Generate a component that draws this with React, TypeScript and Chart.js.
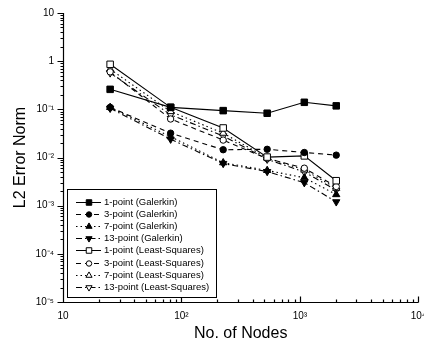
import React, { useEffect, useRef } from 'react';
import { Chart, registerables } from 'chart.js';

Chart.register(...registerables);

// ---- data ----
const nodes = [25, 81, 225, 529, 1089, 2025];
const galerkin1 = [0.26, 0.11, 0.094, 0.083, 0.14, 0.118];
const galerkin3 = [0.11, 0.032, 0.0145, 0.0148, 0.0127, 0.0112];
const galerkin7 = [0.11, 0.027, 0.0078, 0.0054, 0.0038, 0.0017];
const galerkin13 = [0.105, 0.024, 0.0075, 0.0051, 0.003, 0.0012];
const leastSq1 = [0.86, 0.11, 0.041, 0.0102, 0.0108, 0.0033];
const leastSq3 = [0.6, 0.063, 0.023, 0.0095, 0.006, 0.0025];
const leastSq7 = [0.68, 0.09, 0.032, 0.0098, 0.0055, 0.0023];
const leastSq13 = [0.57, 0.077, 0.028, 0.0092, 0.005, 0.0021];

const seriesLabels = [
  '1-point (Galerkin)',
  '3-point (Galerkin)',
  '7-point (Galerkin)',
  '13-point (Galerkin)',
  '1-point (Least-Squares)',
  '3-point (Least-Squares)',
  '7-point (Least-Squares)',
  '13-point (Least-Squares)',
];
const seriesValues = [galerkin1, galerkin3, galerkin7, galerkin13, leastSq1, leastSq3, leastSq7, leastSq13];

const xTickLabels: Record<number, string> = { 1: '10', 2: '10²', 3: '10³', 4: '10⁴' };
const yTickLabels: Record<number, string> = {
  1: '10', 0: '1', [-1]: '10⁻¹', [-2]: '10⁻²', [-3]: '10⁻³', [-4]: '10⁻⁴', [-5]: '10⁻⁵',
};
const xTitle = 'No. of Nodes';
const yTitle = 'L2 Error Norm';

// ---- styles ----
const FONT = '"Liberation Sans", Arial, Helvetica, sans-serif';
const dashSolid: number[] = [];
const dashDashed = [5, 4];
const dashDotted = [1.5, 3];
const dashDashDot = [6, 3, 1.5, 3];
const seriesDash = [dashSolid, dashDashed, dashDotted, dashDashDot, dashSolid, dashDashed, dashDotted, dashDashDot];
const seriesPoint = ['rect', 'circle', 'triangle', 'triangle', 'rect', 'circle', 'triangle', 'triangle'];
const seriesRotation = [0, 0, 0, 180, 0, 0, 0, 180];
const seriesRadius = [4.6, 3.2, 4.2, 4.2, 4.6, 3.2, 4.2, 4.2];
const seriesFill = ['#000', '#000', '#000', '#000', '#fff', '#fff', '#fff', '#fff'];

function powLabel(v: number, map: Record<number, string>) {
  const e = Math.log10(v);
  const r = Math.round(e);
  if (Math.abs(e - r) < 1e-6 && map[r] !== undefined) return map[r];
  return '';
}

function drawMarker(ctx: CanvasRenderingContext2D, style: string, x: number, y: number, r: number, rot: number, fill: string) {
  ctx.beginPath();
  if (style === 'rect') {
    const s = Math.SQRT1_2 * r;
    ctx.rect(x - s, y - s, 2 * s, 2 * s);
  } else if (style === 'circle') {
    ctx.arc(x, y, r, 0, Math.PI * 2);
  } else {
    let a = (rot * Math.PI) / 180;
    ctx.moveTo(x + Math.sin(a) * r, y - Math.cos(a) * r);
    a += (2 * Math.PI) / 3;
    ctx.lineTo(x + Math.sin(a) * r, y - Math.cos(a) * r);
    a += (2 * Math.PI) / 3;
    ctx.lineTo(x + Math.sin(a) * r, y - Math.cos(a) * r);
    ctx.closePath();
  }
  ctx.fillStyle = fill;
  ctx.fill();
  ctx.strokeStyle = '#000';
  ctx.lineWidth = 1;
  ctx.stroke();
}

const axesPlugin = {
  id: 'logAxes',
  beforeDatasetsDraw(chart: any) {
    const { ctx, chartArea: ca, scales } = chart;
    const xs = scales.x;
    const ys = scales.y;
    ctx.save();
    ctx.strokeStyle = '#000';
    ctx.lineWidth = 1.2;
    ctx.setLineDash([]);
    ctx.beginPath();
    const lx = Math.round(ca.left) + 0.5;
    const by = Math.round(ca.bottom) + 0.5;
    ctx.moveTo(lx, ca.top);
    ctx.lineTo(lx, by);
    ctx.lineTo(ca.right, by);
    for (let e = 1; e <= 4; e++) {
      for (let m = 1; m <= 9; m++) {
        const v = m * Math.pow(10, e);
        if (v > 10000 + 1e-6) continue;
        const px = Math.round(xs.getPixelForValue(v)) + 0.5;
        const len = m === 1 ? 6 : 3;
        ctx.moveTo(px, by);
        ctx.lineTo(px, by - len);
      }
    }
    for (let e = -5; e <= 1; e++) {
      for (let m = 1; m <= 9; m++) {
        const v = m * Math.pow(10, e);
        if (v > 10 + 1e-9) continue;
        const py = Math.round(ys.getPixelForValue(v)) + 0.5;
        const len = m === 1 ? 6 : 3;
        ctx.moveTo(lx, py);
        ctx.lineTo(lx - len, py);
      }
    }
    ctx.stroke();
    ctx.restore();
  },
};

const legendPlugin = {
  id: 'boxLegend',
  afterDatasetsDraw(chart: any) {
    const { ctx, chartArea: ca } = chart;
    const w = 149;
    const h = 108;
    const left = Math.round(ca.left) + 4;
    const top = Math.round(ca.bottom) - 5 - h;
    ctx.save();
    ctx.fillStyle = '#fff';
    ctx.fillRect(left, top, w, h);
    ctx.strokeStyle = '#000';
    ctx.lineWidth = 1;
    ctx.setLineDash([]);
    ctx.strokeRect(left + 0.5, top + 0.5, w, h);
    chart.data.datasets.forEach((ds: any, i: number) => {
      const y = Math.round(top + 13 + 12.1 * i) + 0.5;
      ctx.strokeStyle = '#000';
      ctx.lineWidth = 1;
      ctx.setLineDash(ds.borderDash || []);
      ctx.beginPath();
      ctx.moveTo(left + 9, y);
      ctx.lineTo(left + 34, y);
      ctx.stroke();
      ctx.setLineDash([]);
      drawMarker(ctx, ds.pointStyle, left + 22, y, ds.pointRadius * 0.85, ds.pointRotation || 0, ds.pointBackgroundColor);
      ctx.fillStyle = '#000';
      ctx.font = `9.5px ${FONT}`;
      ctx.textBaseline = 'middle';
      ctx.textAlign = 'left';
      ctx.fillText(ds.label, left + 37, y);
    });
    ctx.restore();
  },
};

export default function App() {
  const ref = useRef<HTMLCanvasElement | null>(null);

  useEffect(() => {
    if (!ref.current) return;
    const datasets = seriesLabels.map((label, i) => ({
      label,
      data: nodes.map((n, j) => ({ x: n, y: seriesValues[i][j] })),
      borderColor: '#000',
      borderWidth: 1.1,
      borderDash: seriesDash[i],
      pointStyle: seriesPoint[i],
      pointRotation: seriesRotation[i],
      pointRadius: seriesRadius[i],
      pointBackgroundColor: seriesFill[i],
      pointBorderColor: '#000',
      pointBorderWidth: 1,
      fill: false,
      tension: 0,
    }));

    const chart = new Chart(ref.current, {
      type: 'line',
      data: { datasets },
      plugins: [axesPlugin, legendPlugin],
      options: {
        animation: false,
        responsive: false,
        devicePixelRatio: 1,
        layout: { padding: { top: 13, right: 4, bottom: 0, left: 0 } },
        plugins: { legend: { display: false }, tooltip: { enabled: false } },
        scales: {
          x: {
            type: 'logarithmic',
            min: 10,
            max: 10000,
            position: 'bottom',
            grid: { display: false, drawTicks: false },
            border: { display: false },
            ticks: {
              autoSkip: false,
              maxRotation: 0,
              padding: 8,
              color: '#000',
              font: { family: FONT, size: 10 },
              callback: (v: any) => powLabel(Number(v), xTickLabels),
            },
            title: {
              display: true,
              text: xTitle,
              color: '#000',
              font: { family: FONT, size: 16 },
              padding: { top: 0, bottom: 6 },
            },
            afterFit: (s: any) => {
              s.height = 47;
              s.paddingLeft = 0;
              s.paddingRight = 0;
            },
          },
          y: {
            type: 'logarithmic',
            min: 0.00001,
            max: 10,
            position: 'left',
            grid: { display: false, drawTicks: false },
            border: { display: false },
            ticks: {
              autoSkip: false,
              padding: 9,
              color: '#000',
              font: { family: FONT, size: 10 },
              callback: (v: any) => powLabel(Number(v), yTickLabels),
            },
            title: {
              display: true,
              text: yTitle,
              color: '#000',
              font: { family: FONT, size: 16 },
              padding: { top: 11, bottom: 0 },
            },
            afterFit: (s: any) => {
              s.width = 63;
              s.paddingTop = 0;
              s.paddingBottom = 0;
            },
          },
        },
      } as any,
    });
    return () => chart.destroy();
  }, []);

  return (
    <div style={{ position: 'fixed', left: 0, top: 0, width: 424, height: 349, background: '#fff' }}>
      <canvas ref={ref} width={424} height={349} />
    </div>
  );
}
